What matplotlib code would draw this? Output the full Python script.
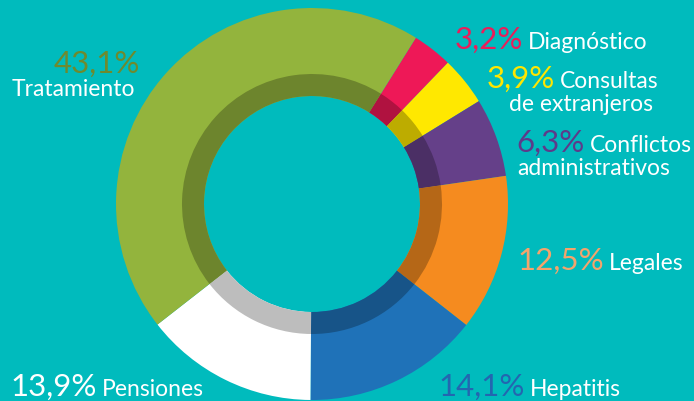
import matplotlib.pyplot as plt
import numpy as np

categories = ["Diagnóstico", "Consultas\nde extranjeros", "Conflictos\nadministrativos",
              "Legales", "Hepatitis", "Pensiones", "Tratamiento"]
values = [3.2, 3.9, 6.3, 12.5, 14.1, 13.9, 43.1]
pct_labels = ["3,2%", "3,9%", "6,3%", "12,5%", "14,1%", "13,9%", "43,1%"]

slice_colors = ["#EE1857", "#FFE800", "#654089", "#F58B1F", "#1F72B8", "#FFFFFF", "#93B43D"]
pct_colors = ["#E91E5A", "#FFE600", "#5D3B8A", "#F4A46C", "#2366B0", "#FFFFFF", "#6E8A2E"]
bg = "#00BBBD"

W, H = 694, 401
fig = plt.figure(figsize=(W / 100, H / 100), dpi=100)
fig.patch.set_facecolor(bg)
ax = fig.add_axes([0, 0, 1, 1])
ax.set_facecolor(bg)

cx, cy = 312, H - 204
r_out, r_dark, r_hole = 196, 130, 108

ax.pie(values, colors=slice_colors, startangle=58, counterclock=False,
       center=(cx, cy), radius=r_out, frame=True,
       wedgeprops=dict(width=r_out - r_hole, linewidth=0))
# darker inner band
dark = [tuple(np.array(plt.matplotlib.colors.to_rgb(c)) * 0.74) for c in slice_colors]
ax.pie(values, colors=dark, startangle=58, counterclock=False,
       center=(cx, cy), radius=r_dark, frame=True,
       wedgeprops=dict(width=r_dark - r_hole, linewidth=0))
ax.set_xlim(0, W)
ax.set_ylim(0, H)
ax.set_aspect("auto")
ax.axis("off")

font = "Lato"
pct_size = 22.5
lab_size = 16.5

# (x of label, baseline y in image pixels); percent sits just left of the label
pos = [
    (528, 49),
    (560, 88),
    (590, 152),
    (609, 270),
    (530, 396),
    (102, 396),
]
for i, (xl, yb) in enumerate(pos):
    ax.text(xl - 5, H - yb, pct_labels[i], color=pct_colors[i], fontsize=pct_size,
            family=font, ha="right", va="baseline")
    lines = categories[i].split("\n")
    ax.text(xl, H - yb, lines[0], color="white", fontsize=lab_size,
            family=font, ha="left", va="baseline")
    if len(lines) > 1:
        x2 = 509 if i == 1 else 517
        ax.text(x2, H - yb - 23, lines[1], color="white", fontsize=lab_size,
                family=font, ha="left", va="baseline")

# Tratamiento: percent above label, right aligned
ax.text(140, H - 73, pct_labels[6], color=pct_colors[6], fontsize=pct_size,
        family=font, ha="right", va="baseline")
ax.text(135, H - 96, categories[6], color="white", fontsize=lab_size,
        family=font, ha="right", va="baseline")

fig.savefig("out.png", dpi=100, facecolor=bg)
